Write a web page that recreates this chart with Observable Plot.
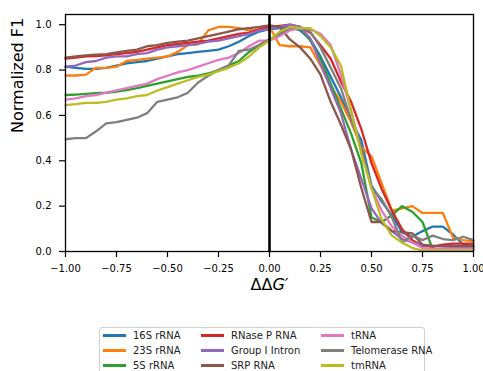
<!DOCTYPE html>
<html>
<head>
<meta charset="utf-8">
<script src="https://cdn.jsdelivr.net/npm/d3@7"></script>
<script src="https://cdn.jsdelivr.net/npm/@observablehq/plot@0.6"></script>
<style>
  body { margin: 0; background: #fff; font-family: "DejaVu Sans", sans-serif; }
  #legend {
    position: absolute; left: 99px; top: 327px;
    border: 1px solid #cfcfcf; border-radius: 3px;
    padding: 1px 8px 6px 3px;
    display: grid; grid-template-columns: 98px 120px 95px; row-gap: 2px;
    font-size: 10px; color: #222; background: #fff;
  }
  .item { display: flex; align-items: center; height: 13px; white-space: nowrap; }
  .sw { width: 23px; height: 3px; margin-right: 7px; flex: none; }
</style>
</head>
<body>
<div id="chart"></div>
<div id="legend"></div>
<script>
const xs = [-1,-0.95,-0.9,-0.85,-0.8,-0.75,-0.7,-0.65,-0.6,-0.55,-0.5,-0.45,-0.4,-0.35,-0.3,-0.25,-0.2,-0.15,-0.1,-0.05,0,0.05,0.1,0.15,0.2,0.25,0.3,0.35,0.4,0.45,0.5,0.55,0.6,0.65,0.7,0.75,0.8,0.85,0.9,0.95,1];

const names = ["16S rRNA","23S rRNA","5S rRNA","RNase P RNA","Group I Intron","SRP RNA","tRNA","Telomerase RNA","tmRNA"];
const colors = ["#1f77b4","#ff7f0e","#2ca02c","#d62728","#9467bd","#8c564b","#e377c2","#7f7f7f","#bcbd22"];

const s16S = [.815,.81,.805,.805,.81,.82,.83,.835,.84,.85,.86,.87,.875,.88,.885,.89,.905,.925,.95,.97,.98,.985,.99,.975,.935,.86,.77,.68,.58,.49,.29,.22,.16,.085,.065,.09,.11,.11,.075,.03,.025];
const s23S = [.776,.776,.78,.81,.81,.815,.84,.845,.85,.855,.86,.88,.91,.915,.975,.99,.99,.985,.975,.98,.99,.91,.905,.905,.90,.82,.73,.66,.57,.46,.42,.30,.18,.19,.20,.17,.17,.17,.06,.05,.045];
const s5S  = [.69,.692,.695,.698,.70,.705,.712,.72,.73,.74,.75,.76,.77,.775,.785,.80,.82,.84,.88,.91,.935,.955,.98,.985,.93,.85,.74,.63,.52,.39,.15,.13,.16,.20,.175,.13,.01,.01,.008,.008,.008];
const sRNaseP = [.85,.855,.86,.862,.865,.87,.875,.88,.89,.90,.91,.915,.92,.925,.93,.94,.95,.96,.965,.98,.99,.995,1.0,.99,.965,.91,.85,.75,.66,.54,.39,.275,.18,.098,.05,.025,.02,.03,.035,.035,.035];
const sGroupI = [.815,.82,.835,.84,.855,.86,.86,.87,.875,.89,.90,.905,.91,.915,.925,.93,.94,.95,.96,.975,.98,.99,1.0,.99,.94,.83,.72,.61,.45,.32,.19,.125,.09,.055,.04,.028,.025,.022,.02,.02,.02];
const sSRP = [.855,.86,.865,.868,.87,.878,.885,.89,.905,.91,.92,.925,.93,.94,.95,.96,.97,.98,.985,.99,.997,.99,.935,.90,.85,.78,.66,.56,.45,.28,.13,.13,.09,.085,.08,.03,.025,.025,.025,.025,.025];
const stRNA = [.67,.675,.685,.69,.70,.71,.72,.73,.74,.76,.775,.79,.80,.815,.83,.845,.855,.875,.905,.93,.93,.95,.975,.985,.98,.96,.91,.78,.62,.45,.28,.18,.11,.07,.04,.015,.012,.012,.012,.012,.012];
const sTelo = [.495,.50,.50,.53,.565,.57,.58,.59,.61,.66,.67,.68,.70,.745,.775,.80,.82,.885,.89,.91,.935,.96,.985,.99,.97,.90,.81,.72,.58,.46,.28,.23,.15,.04,.07,.05,.07,.055,.05,.065,.05];
const stm = [.645,.65,.655,.655,.66,.67,.675,.685,.69,.71,.725,.74,.755,.77,.78,.795,.81,.83,.86,.90,.93,.97,.99,.985,.985,.95,.90,.82,.62,.43,.28,.14,.07,.04,.015,.005,.005,.005,.005,.005,.005];

const series = [s16S, s23S, s5S, sRNaseP, sGroupI, sSRP, stRNA, sTelo, stm];
const xTicks = [-1,-0.75,-0.5,-0.25,0,0.25,0.5,0.75,1];
const yTicks = [0,0.2,0.4,0.6,0.8,1.0];

const rows = [];
series.forEach((s, i) => s.forEach((v, j) => rows.push({name: names[i], x: xs[j], y: v})));

const chart = Plot.plot({
  width: 483, height: 300,
  marginLeft: 65, marginRight: 10, marginTop: 14, marginBottom: 49,
  style: {fontFamily: "DejaVu Sans", fontSize: "10px", color: "#000", background: "#fff"},
  x: {domain: [-1, 1]},
  y: {domain: [0, 1.045]},
  color: {domain: names, range: colors},
  marks: [
    Plot.line(rows, {x: "x", y: "y", z: "name", stroke: "name", strokeWidth: 2.3, strokeLinejoin: "round"}),
    Plot.ruleX([0], {stroke: "black", strokeWidth: 2.6}),
    Plot.frame({stroke: "black", strokeWidth: 1.3}),
    Plot.axisX({ticks: xTicks, tickFormat: d3.format(".2f"), tickSize: 6, tickPadding: 7, strokeWidth: 1.2, label: null}),
    Plot.axisY({ticks: yTicks, tickFormat: d3.format(".1f"), tickSize: 6, tickPadding: 8, strokeWidth: 1.2, label: null}),
    Plot.text(["ΔΔG′"], {frameAnchor: "bottom", dy: 38, fontSize: 16, fill: "black"}),
    Plot.text(["Normalized F1"], {frameAnchor: "left", dx: -48, rotate: -90, fontSize: 16, fill: "black"})
  ]
});
document.getElementById("chart").appendChild(chart);

// italic G in the x label
d3.select(chart).selectAll("text").each(function() {
  if (this.textContent === "ΔΔG′") {
    const t = d3.select(this);
    const tspanHost = t.selectAll("tspan").size() ? t.select("tspan") : t;
    tspanHost.text(null);
    tspanHost.append("tspan").text("ΔΔ");
    tspanHost.append("tspan").attr("font-style", "italic").text("G′");
  }
});

const legend = document.getElementById("legend");
const order = [0, 3, 6, 1, 4, 7, 2, 5, 8];
order.forEach(i => {
  const d = document.createElement("div");
  d.className = "item";
  d.innerHTML = `<span class="sw" style="background:${colors[i]}"></span><span>${names[i]}</span>`;
  legend.appendChild(d);
});
</script>
</body>
</html>
